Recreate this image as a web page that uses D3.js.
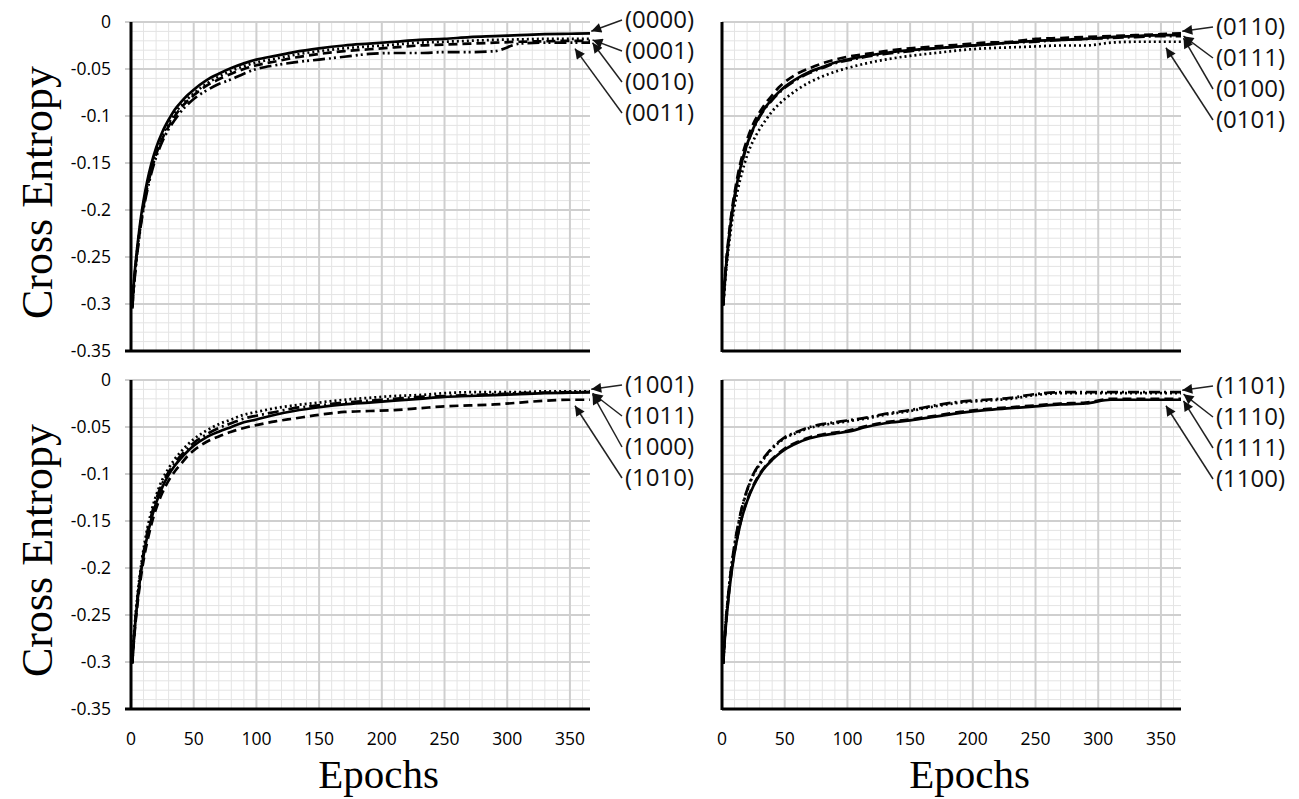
<!DOCTYPE html>
<html>
<head>
<meta charset="utf-8">
<script src="https://cdn.jsdelivr.net/npm/d3@7"></script>
<style>
  html, body { margin: 0; padding: 0; background: #fff; }
  svg { display: block; }
</style>
</head>
<body>
<svg id="chart" width="1299" height="799"></svg>
<script>
// epochs sampled along each curve
const epochs = [1, 2, 4, 6, 8, 10, 13, 16, 20, 25, 30, 35, 40, 45, 50, 60, 70, 80, 90, 100,
  115, 130, 150, 170, 190, 210, 230, 250, 270, 290, 310, 330, 350, 366];

const yTicks = [0, -0.05, -0.1, -0.15, -0.2, -0.25, -0.3, -0.35];
const yTickLabels = ['0', '-0.05', '-0.1', '-0.15', '-0.2', '-0.25', '-0.3', '-0.35'];
const xTicks = [0, 50, 100, 150, 200, 250, 300, 350];

// top-left panel
const labelsTL = ['(0000)', '(0001)', '(0010)', '(0011)'];
const s0000 = [-0.302,-0.282,-0.252,-0.228,-0.207,-0.190,-0.169,-0.152,-0.134,-0.117,-0.104,-0.093,-0.085,-0.078,-0.072,-0.062,-0.055,-0.049,-0.044,-0.040,-0.036,-0.032,-0.028,-0.025,-0.023,-0.021,-0.019,-0.018,-0.016,-0.015,-0.014,-0.013,-0.0125,-0.012];
const s0001 = [-0.303,-0.285,-0.255,-0.231,-0.211,-0.194,-0.173,-0.156,-0.138,-0.121,-0.108,-0.097,-0.089,-0.082,-0.076,-0.066,-0.058,-0.052,-0.047,-0.043,-0.039,-0.035,-0.031,-0.028,-0.026,-0.024,-0.022,-0.021,-0.020,-0.019,-0.0185,-0.018,-0.018,-0.018];
const s0010 = [-0.304,-0.284,-0.256,-0.233,-0.213,-0.196,-0.176,-0.159,-0.141,-0.124,-0.111,-0.100,-0.091,-0.084,-0.078,-0.068,-0.061,-0.055,-0.050,-0.046,-0.042,-0.038,-0.034,-0.031,-0.029,-0.027,-0.025,-0.024,-0.023,-0.022,-0.021,-0.0205,-0.020,-0.020];
const s0011 = [-0.305,-0.287,-0.258,-0.235,-0.215,-0.199,-0.179,-0.162,-0.144,-0.127,-0.114,-0.104,-0.095,-0.088,-0.082,-0.073,-0.066,-0.061,-0.055,-0.050,-0.046,-0.043,-0.040,-0.037,-0.034,-0.033,-0.033,-0.032,-0.032,-0.031,-0.023,-0.022,-0.022,-0.022];

// top-right panel
const labelsTR = ['(0110)', '(0111)', '(0100)', '(0101)'];
const s0110 = [-0.300,-0.278,-0.246,-0.220,-0.199,-0.182,-0.160,-0.143,-0.125,-0.108,-0.096,-0.086,-0.078,-0.070,-0.064,-0.055,-0.049,-0.044,-0.040,-0.037,-0.034,-0.031,-0.028,-0.026,-0.024,-0.022,-0.021,-0.018,-0.017,-0.016,-0.015,-0.014,-0.013,-0.012];
const s0111 = [-0.301,-0.280,-0.249,-0.224,-0.203,-0.186,-0.165,-0.148,-0.130,-0.113,-0.100,-0.090,-0.082,-0.075,-0.069,-0.060,-0.053,-0.048,-0.043,-0.040,-0.036,-0.033,-0.030,-0.028,-0.026,-0.024,-0.022,-0.020,-0.019,-0.018,-0.016,-0.015,-0.014,-0.014];
const s0100 = [-0.301,-0.281,-0.250,-0.225,-0.204,-0.187,-0.166,-0.149,-0.131,-0.114,-0.101,-0.091,-0.083,-0.076,-0.070,-0.061,-0.054,-0.049,-0.044,-0.041,-0.037,-0.034,-0.031,-0.028,-0.026,-0.024,-0.022,-0.021,-0.019,-0.018,-0.017,-0.016,-0.015,-0.015];
const s0101 = [-0.302,-0.284,-0.255,-0.232,-0.212,-0.196,-0.176,-0.160,-0.142,-0.126,-0.114,-0.104,-0.095,-0.088,-0.082,-0.072,-0.064,-0.058,-0.053,-0.049,-0.044,-0.040,-0.036,-0.033,-0.030,-0.028,-0.027,-0.026,-0.025,-0.025,-0.022,-0.021,-0.021,-0.021];

// bottom-left panel
const labelsBL = ['(1001)', '(1011)', '(1000)', '(1010)'];
const s1001 = [-0.300,-0.278,-0.245,-0.219,-0.198,-0.180,-0.158,-0.141,-0.123,-0.106,-0.094,-0.084,-0.076,-0.069,-0.063,-0.054,-0.047,-0.042,-0.037,-0.034,-0.030,-0.027,-0.024,-0.021,-0.019,-0.017,-0.016,-0.014,-0.013,-0.013,-0.013,-0.012,-0.012,-0.012];
const s1011 = [-0.301,-0.281,-0.250,-0.225,-0.204,-0.187,-0.166,-0.149,-0.131,-0.114,-0.101,-0.091,-0.083,-0.076,-0.070,-0.061,-0.055,-0.050,-0.045,-0.042,-0.037,-0.033,-0.029,-0.026,-0.024,-0.022,-0.020,-0.018,-0.017,-0.016,-0.015,-0.014,-0.0135,-0.013];
const s1000 = [-0.301,-0.280,-0.248,-0.222,-0.201,-0.184,-0.162,-0.145,-0.127,-0.110,-0.098,-0.088,-0.080,-0.073,-0.067,-0.058,-0.051,-0.046,-0.041,-0.038,-0.034,-0.030,-0.027,-0.024,-0.022,-0.020,-0.018,-0.017,-0.016,-0.015,-0.014,-0.0135,-0.013,-0.013];
const s1010 = [-0.302,-0.283,-0.253,-0.229,-0.209,-0.192,-0.172,-0.155,-0.137,-0.120,-0.107,-0.097,-0.089,-0.081,-0.075,-0.066,-0.060,-0.055,-0.051,-0.048,-0.044,-0.041,-0.037,-0.034,-0.033,-0.032,-0.030,-0.028,-0.027,-0.026,-0.024,-0.022,-0.021,-0.021];

// bottom-right panel
const labelsBR = ['(1101)', '(1110)', '(1111)', '(1100)'];
const s1101 = [-0.300,-0.276,-0.242,-0.215,-0.193,-0.175,-0.153,-0.135,-0.117,-0.100,-0.089,-0.080,-0.072,-0.066,-0.061,-0.055,-0.050,-0.047,-0.045,-0.043,-0.040,-0.036,-0.032,-0.027,-0.023,-0.021,-0.019,-0.015,-0.013,-0.013,-0.013,-0.013,-0.013,-0.013];
const s1110 = [-0.301,-0.277,-0.243,-0.216,-0.194,-0.176,-0.154,-0.136,-0.118,-0.101,-0.090,-0.081,-0.073,-0.067,-0.062,-0.056,-0.051,-0.048,-0.046,-0.044,-0.041,-0.037,-0.033,-0.028,-0.024,-0.022,-0.020,-0.016,-0.014,-0.014,-0.014,-0.014,-0.014,-0.014];
const s1111 = [-0.302,-0.279,-0.247,-0.221,-0.200,-0.183,-0.162,-0.145,-0.128,-0.112,-0.100,-0.091,-0.084,-0.078,-0.073,-0.066,-0.061,-0.058,-0.056,-0.054,-0.049,-0.045,-0.042,-0.038,-0.034,-0.031,-0.029,-0.027,-0.025,-0.024,-0.020,-0.020,-0.020,-0.020];
const s1100 = [-0.302,-0.280,-0.248,-0.222,-0.201,-0.184,-0.163,-0.146,-0.129,-0.113,-0.101,-0.092,-0.085,-0.079,-0.074,-0.067,-0.062,-0.059,-0.057,-0.055,-0.050,-0.046,-0.043,-0.039,-0.035,-0.032,-0.030,-0.028,-0.026,-0.025,-0.021,-0.021,-0.021,-0.021];

// line dash styles
const DASH = {
    solid: null,
    dotted: '2,3',
    dashed: '9,5',
    dashdot: '11,4,2,4',
    dashdotdot: '12,4,2,3,2,4'
};

const panels = [
    { left: 131, top: 22, labels: labelsTL, series: [s0000, s0001, s0010, s0011],
      styles: ['solid', 'dotted', 'dashed', 'dashdotdot'], yLabels: true, xLabels: false, labelTop: -2 },
    { left: 722, top: 22, labels: labelsTR, series: [s0110, s0111, s0100, s0101],
      styles: ['dashed', 'solid', 'dashdot', 'dotted'], yLabels: false, xLabels: false, labelTop: 5 },
    { left: 131, top: 380, labels: labelsBL, series: [s1001, s1011, s1000, s1010],
      styles: ['dotted', 'solid', 'dashdot', 'dashed'], yLabels: true, xLabels: true, labelTop: 5 },
    { left: 722, top: 380, labels: labelsBR, series: [s1101, s1110, s1111, s1100],
      styles: ['dashdot', 'dotted', 'dashed', 'solid'], yLabels: false, xLabels: true, labelTop: 6 }
];

const plotW = 459;
const plotH = 329;
const xMax = 366;

// arrow tip placement relative to each curve's end
const tipEpoch = [367, 368, 368, 354];
const tipDy = [-2, 1, 2, 6];

const svg = d3.select('#chart');

svg.append('defs').append('marker')
    .attr('id', 'arrow')
    .attr('viewBox', '0 0 10 10')
    .attr('refX', 10)
    .attr('refY', 5)
    .attr('markerUnits', 'userSpaceOnUse')
    .attr('markerWidth', 13)
    .attr('markerHeight', 10)
    .attr('orient', 'auto')
    .append('path')
    .attr('d', 'M0,0 L10,5 L0,10 z')
    .attr('fill', '#111');

panels.forEach(p => {
    const x = d3.scaleLinear().domain([0, xMax]).range([p.left, p.left + plotW]);
    const y = d3.scaleLinear().domain([0, -0.35]).range([p.top, p.top + plotH]);
    const g = svg.append('g');
    const tickOut = p.yLabels ? 6 : 0;

    // minor grid
    const minorX = d3.range(10, 361, 10).filter(v => v % 50 !== 0);
    const minorY = d3.range(1, 35).map(i => -i / 100).filter((v, i) => (i + 1) % 5 !== 0);
    g.selectAll('.minor-x').data(minorX).join('line')
        .attr('x1', d => x(d)).attr('x2', d => x(d))
        .attr('y1', y(0)).attr('y2', y(-0.35))
        .attr('stroke', '#e4e4e4').attr('stroke-width', 1);
    g.selectAll('.minor-y').data(minorY).join('line')
        .attr('x1', x(0)).attr('x2', x(xMax))
        .attr('y1', d => y(d)).attr('y2', d => y(d))
        .attr('stroke', '#e4e4e4').attr('stroke-width', 1);

    // major grid
    g.selectAll('.major-x').data(xTicks.slice(1)).join('line')
        .attr('x1', d => x(d)).attr('x2', d => x(d))
        .attr('y1', y(0)).attr('y2', y(-0.35))
        .attr('stroke', '#cfcfcf').attr('stroke-width', 2);
    g.selectAll('.major-y').data(yTicks.slice(0, -1)).join('line')
        .attr('x1', x(0) - tickOut).attr('x2', x(xMax))
        .attr('y1', d => y(d)).attr('y2', d => y(d))
        .attr('stroke', '#cfcfcf').attr('stroke-width', 2);

    // axes lines
    g.append('line')
        .attr('x1', x(0)).attr('x2', x(0))
        .attr('y1', y(0)).attr('y2', y(-0.35) + 1)
        .attr('stroke', '#000').attr('stroke-width', 3);
    g.append('line')
        .attr('x1', x(0) - tickOut).attr('x2', x(xMax))
        .attr('y1', y(-0.35)).attr('y2', y(-0.35))
        .attr('stroke', '#000').attr('stroke-width', 3);

    if (p.yLabels) {
        g.selectAll('.ylab').data(yTicks).join('text')
            .attr('x', x(0) - 20)
            .attr('y', d => y(d))
            .attr('dy', '0.35em')
            .attr('text-anchor', 'end')
            .attr('font-family', '"Open Sans", sans-serif')
            .attr('font-size', '17.5px')
            .attr('fill', '#000')
            .text((d, i) => yTickLabels[i]);

        g.append('text')
            .attr('transform', `translate(52,${p.top + plotH / 2 + 6}) rotate(-90)`)
            .attr('text-anchor', 'middle')
            .attr('font-family', '"Liberation Serif", "DejaVu Serif", serif')
            .attr('font-size', '44px')
            .attr('fill', '#000')
            .text('Cross Entropy');
    }

    if (p.xLabels) {
        g.selectAll('.xlab').data(xTicks).join('text')
            .attr('x', d => x(d))
            .attr('y', y(-0.35) + 36)
            .attr('text-anchor', 'middle')
            .attr('font-family', '"Open Sans", sans-serif')
            .attr('font-size', '17.5px')
            .attr('fill', '#000')
            .text(d => d);
        g.append('text')
            .attr('x', x(0) + plotW / 2 + 18)
            .attr('y', y(-0.35) + 79)
            .attr('text-anchor', 'middle')
            .attr('font-family', '"Liberation Serif", "DejaVu Serif", serif')
            .attr('font-size', '41px')
            .attr('fill', '#000')
            .text('Epochs');
    }

    // curves
    const line = d3.line()
        .x((d, i) => x(epochs[i]))
        .y(d => y(d))
        .curve(d3.curveMonotoneX);

    p.series.forEach((s, k) => {
        g.append('path')
            .attr('d', line(s))
            .attr('fill', 'none')
            .attr('stroke', '#000')
            .attr('stroke-width', 2.7)
            .attr('stroke-dasharray', DASH[p.styles[k]]);
    });

    // annotations
    const labelX = x(xMax) + 35;
    p.labels.forEach((lab, k) => {
        const ly = p.top + p.labelTop + k * 31;
        const s = p.series[k];
        const tx = x(tipEpoch[k]);
        const ty = y(s[s.length - 1]) + tipDy[k];
        g.append('line')
            .attr('x1', labelX - 3).attr('y1', ly)
            .attr('x2', tx).attr('y2', ty)
            .attr('stroke', '#222').attr('stroke-width', 1.5)
            .attr('marker-end', 'url(#arrow)');
        g.append('text')
            .attr('x', labelX)
            .attr('y', ly)
            .attr('dy', '0.35em')
            .attr('font-family', '"Open Sans", sans-serif')
            .attr('font-size', '24px')
            .attr('fill', '#111')
            .text(lab);
    });
});
</script>
</body>
</html>
